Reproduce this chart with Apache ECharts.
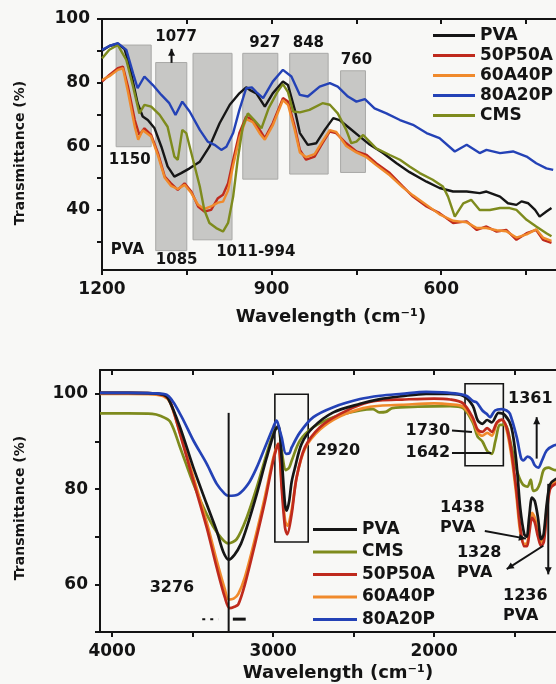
<!DOCTYPE html>
<html><head><meta charset="utf-8">
<script src="https://cdn.jsdelivr.net/npm/echarts/dist/echarts.min.js"></script>
<style>html,body{margin:0;padding:0;background:#f8f8f6}#c{width:556px;height:684px}</style>
</head><body><div id="c"></div>
<script>
// ---------- DATA (top panel: 1200-400 cm-1) ----------
const seriesNames = ['PVA','50P50A','60A40P','80A20P','CMS'];
const topPVA = [[1200,90],[1187,91.5],[1172,92.2],[1160,90.5],[1151,85],[1137,73.5],[1128,69.3],[1119,68.2],[1107,65.6],[1095,59.8],[1084,53.6],[1072,50.4],[1060,51.5],[1045,53],[1027,55.1],[1010,59.8],[992,67.2],[974,73],[957,76.6],[945,78.5],[939,77.7],[927,76.6],[912,72.4],[898,76.6],[880,80.3],[871,79.2],[859,71.4],[850,64.1],[836,60.4],[821,60.9],[806,65.1],[791,68.8],[780,68.2],[762,65.6],[744,63],[726,60.4],[703,57.8],[679,54.6],[656,51.8],[626,48.8],[603,46.8],[579,45.7],[555,45.7],[532,45.2],[520,45.7],[496,44.1],[482,42],[467,41.5],[458,42.6],[446,42],[434,39.9],[426,37.8],[414,39.4],[405,40.5]];
const top50P50A = [[1200,80.3],[1187,82.4],[1172,84.5],[1163,85],[1154,78.7],[1142,68.2],[1134,63.5],[1125,65.6],[1113,63.5],[1101,57.8],[1089,50.4],[1078,48.3],[1066,46.2],[1054,48.3],[1042,45.7],[1030,41],[1019,39.4],[1007,39.9],[995,43.6],[986,44.7],[977,48.3],[968,55.7],[957,64.1],[945,69.3],[933,68.2],[921,65.1],[912,62.5],[898,67.2],[880,75.1],[871,74],[859,66.1],[850,58.8],[839,55.7],[824,56.7],[810,60.9],[797,64.6],[786,64.1],[768,60.9],[750,58.3],[732,57.2],[715,54.6],[691,51.5],[668,47.3],[650,44.1],[626,41],[603,38.9],[579,35.8],[555,36.3],[537,33.6],[520,34.7],[502,33.1],[485,33.6],[467,30.5],[449,32.6],[432,33.6],[420,30.5],[405,29.5]];
const top60A40P = [[1200,80.8],[1187,82],[1172,84],[1163,84.5],[1154,77],[1142,66],[1136,62],[1128,65],[1113,63],[1101,57],[1089,50],[1078,47.5],[1066,46.5],[1054,47.8],[1042,45.2],[1030,41.5],[1019,40.2],[1007,41],[995,42.2],[986,42.5],[977,46],[968,54],[957,62.5],[945,68.5],[933,67.5],[921,64],[912,62],[898,66.5],[880,74.5],[871,73],[859,65],[850,58],[839,56.5],[824,57.5],[810,61.5],[797,65],[786,64.5],[768,60],[750,58],[732,56.5],[715,54],[691,50.8],[668,47],[650,44.5],[626,41.5],[603,38.5],[579,36.5],[555,36],[537,34.2],[520,34.2],[502,33.5],[485,33.2],[467,31.2],[449,32.2],[432,33.8],[420,31.2],[405,30.2]];
const top80A20P = [[1200,90.3],[1187,91.5],[1172,92.4],[1157,90.3],[1145,82.9],[1137,78.2],[1125,81.9],[1110,79.2],[1095,76.1],[1081,73.5],[1070,69.8],[1058,74],[1045,70.9],[1027,65.1],[1013,61.4],[1001,60.4],[989,58.8],[980,59.8],[968,64.1],[957,71.4],[945,78.2],[935,78.5],[927,77],[915,75.1],[898,80.3],[880,84],[865,81.9],[850,76.1],[836,75.6],[815,78.7],[797,79.8],[783,78.7],[765,75.6],[750,74],[735,74.8],[718,71.9],[697,70.3],[673,68.2],[650,66.7],[626,64.1],[603,62.5],[576,58.3],[555,60.4],[532,57.8],[520,58.8],[496,57.8],[473,58.3],[449,56.7],[432,54.6],[414,53],[402,52.5]];
const topCMS = [[1200,87.6],[1187,90.3],[1172,91.8],[1157,87.1],[1145,78.7],[1134,70.3],[1125,73],[1113,72.4],[1098,69.8],[1084,66.1],[1072,56.7],[1066,55.7],[1058,65.1],[1051,64.1],[1039,55.7],[1027,47.3],[1019,39.9],[1010,35.8],[998,34.2],[986,33.1],[977,35.8],[968,44.1],[960,55.7],[951,66.1],[942,70.3],[930,68],[918,65.6],[905,72],[890,77],[880,79.5],[871,77],[862,70.9],[850,70.6],[833,71.4],[810,73.5],[797,73],[783,70.3],[768,65.1],[759,60.9],[750,61.4],[738,63.5],[715,59.3],[691,57.2],[673,55.7],[656,53.6],[638,51.5],[615,49.4],[597,47.3],[588,44.1],[576,37.8],[561,42],[547,43.1],[532,39.9],[514,39.9],[496,40.5],[479,40.5],[467,39.9],[449,36.8],[432,34.7],[414,32.6],[405,31.6]];
const topXTicks = [1200,1050,900,750,600,450];
const topXLabels = [1200,900,600];
const topYTicks = [30,40,50,60,70,80,90,100];
const topYLabels = [40,60,80,100];
// shaded band ranges [wavenumber from, to] and [T top, bottom]
const topBoxWave = [[1175,1113],[1105,1050],[1039,970],[951,889],[868,800],[778,734]];
const topBoxTrans = [[91.8,59.8],[86.3,27.1],[89.2,30.5],[89.2,49.6],[89.2,51.2],[83.7,51.7]];
// annotation texts [text, wavenumber, T]
const topNotes = [['1077',1069,94.3],['927',912,92.5],['848',835,92.5],['760',750,87.1],['1150',1151,55.7],['PVA',1155,27.4],['1085',1068,24.2],['1011-994',928,26.7]];

// ---------- DATA (bottom panel: 4000-400 cm-1, visible part) ----------
const botPVA = [[4075,100.2],[3900,100.2],[3750,100.1],[3680,99.8],[3651,99],[3578,93],[3495,84.5],[3412,76.8],[3350,71.2],[3309,66.8],[3276,65.2],[3240,66.2],[3200,68.5],[3164,71.9],[3102,78.9],[3040,86.6],[2988,92.3],[2967,93.3],[2947,86.6],[2926,76.8],[2915,75.5],[2900,77.5],[2885,81.5],[2864,84.5],[2823,89.5],[2750,93],[2626,96.1],[2460,97.9],[2336,98.9],[2200,99.5],[2050,100],[1900,100],[1820,99.6],[1760,97.5],[1730,94.5],[1700,93.7],[1670,94.5],[1642,94],[1600,96],[1560,95.5],[1520,93],[1490,86],[1465,76],[1440,70.5],[1425,70],[1410,74],[1392,78.2],[1375,77.5],[1355,74],[1335,69.5],[1320,70.5],[1300,77],[1280,81],[1250,82],[1200,82.5]];
const botCMS = [[4075,95.9],[3900,95.9],[3750,95.8],[3702,95.4],[3640,94.2],[3578,88.8],[3495,81.1],[3412,74.7],[3340,70.5],[3278,68.6],[3226,69.5],[3164,74],[3102,80.3],[3040,87.4],[2988,92.6],[2967,92.8],[2947,88.1],[2920,84],[2900,84.5],[2884,86],[2833,90.2],[2750,93],[2626,95.1],[2460,96.5],[2380,96.8],[2340,96.1],[2300,96.2],[2260,97],[2100,97.3],[1900,97.4],[1820,97],[1760,94],[1730,91],[1700,90],[1670,88],[1642,87.4],[1620,90],[1590,93.5],[1560,93.5],[1520,89],[1487,84],[1450,81],[1420,80.5],[1400,82],[1384,79.6],[1360,80],[1340,81.5],[1320,84],[1290,84.5],[1250,84],[1200,84]];
const bot50P50A = [[4075,100.2],[3900,100.2],[3750,100.1],[3680,99.7],[3640,98.5],[3578,91.6],[3495,81.7],[3412,71.9],[3350,63.5],[3299,57.2],[3270,55],[3240,55.3],[3216,55.8],[3175,60],[3113,68.4],[3050,77.5],[2999,86],[2968,89.5],[2947,80.3],[2926,71.9],[2912,70.5],[2885,74.7],[2854,82.4],[2802,88.8],[2709,93],[2584,95.8],[2440,97.9],[2336,98.6],[2200,98.8],[2000,99],[1900,98.8],[1820,98],[1760,95],[1730,92.5],[1700,92],[1670,92.8],[1642,92],[1610,94],[1580,94.6],[1550,93],[1520,88],[1490,80],[1465,72],[1440,68],[1423,68],[1408,71],[1392,74],[1375,73],[1355,70],[1335,68],[1318,69],[1300,75],[1280,80],[1250,81],[1200,81.5]];
const bot60A40P = [[4075,100],[3900,100],[3750,99.9],[3680,99.5],[3640,98.2],[3578,91.8],[3495,82.5],[3412,73],[3350,65],[3300,59],[3276,56.8],[3245,57],[3216,58],[3175,61.5],[3113,69.5],[3050,78.5],[2999,86.5],[2970,89.5],[2947,81.5],[2926,73.5],[2912,72.3],[2885,75.5],[2854,82.5],[2802,88.5],[2709,92.5],[2584,95.3],[2440,97],[2336,97.5],[2200,97.7],[2000,98],[1900,97.8],[1820,97.3],[1760,94.5],[1730,92],[1700,91.2],[1670,91.8],[1642,91.2],[1610,93.8],[1580,94.5],[1550,92.5],[1520,87],[1490,79],[1465,71],[1440,68.5],[1423,68.6],[1408,72],[1392,75],[1375,74],[1355,71],[1335,68.8],[1318,70],[1300,76],[1280,80.5],[1250,81.5],[1200,82]];
const bot80A20P = [[4075,100.2],[3900,100.2],[3750,100.1],[3661,99.8],[3578,95.8],[3495,90.2],[3412,85.3],[3350,81.1],[3300,79],[3278,78.6],[3216,78.9],[3154,81.1],[3102,84.5],[3050,88.8],[2999,93],[2978,94.4],[2960,92.5],[2947,90.9],[2920,87.4],[2900,87.5],[2884,88.8],[2833,91.9],[2750,95.1],[2626,97.2],[2460,98.9],[2336,99.6],[2200,100],[2050,100.4],[1950,100.3],[1850,100],[1800,99.6],[1760,98.5],[1736,98.2],[1700,96.5],[1674,95.8],[1653,95.1],[1622,96.5],[1581,96.8],[1550,96.5],[1529,95.8],[1487,90.9],[1460,86.5],[1446,86],[1420,86.8],[1394,86.3],[1375,85],[1353,84.5],[1330,86],[1301,88.1],[1260,89.1],[1200,89.5]];
const botXTicks = [4000,3500,3000,2500,2000,1500];
const botXLabels = [4000,3000,2000];
const botYTicks = [50,60,70,80,90,100];
const botYLabels = [60,80,100];
const botBoxWave = [[2989,2782],[1808,1570]];
const botBoxTrans = [[99.9,68.9],[102.1,84.9]];
const botNotes = [['2920',2597,88.1,'center'],['3276',3628,59.2,'center'],['1730',1901,92.3,'right'],['1642',1901,87.6,'right'],['1361',1541,99.0,'left'],['1438',1963,76.1,'left'],['PVA',1963,71.9,'left'],['1328',1858,66.7,'left'],['PVA',1858,62.4,'left'],['1236',1572,57.5,'left'],['PVA',1572,53.3,'left']];
// leader lines / arrows: [wn1,T1,wn2,T2, arrowhead at end?]
const botLeaders = [[3276,96,3276,50,0],[1889,92.3,1765,92,0],[1889,87.6,1645,87.6,0],[1363,86.4,1363,95.1,1],[1685,71.2,1430,69.6,1],[1322,68.1,1549,63.2,1],[1291,81.1,1291,62.1,1]];
const topLeaders = [[1077,86.2,1077,90.6,1]];

// ---------- STYLE ----------
const FONT = '"DejaVu Sans", sans-serif';
const INK = '#141414';
const colors = {'PVA':'#161616','50P50A':'#bf2a1d','60A40P':'#f08a2c','80A20P':'#2442b6','CMS':'#7e8b1d'};

const chart = echarts.init(document.getElementById('c'), null, {renderer:'canvas', width:556, height:684});

function lineSeries(name, data, xi, yi, w, smooth){
  return {type:'line', name, data, xAxisIndex:xi, yAxisIndex:yi, symbol:'none', showSymbol:false,
    smooth, color:colors[name], lineStyle:{color:colors[name], width:w}, z:3, silent:true, animation:false};
}
function boxSeries(wave, trans, xi, yi, fill, stroke, lw){
  return {type:'custom', xAxisIndex:xi, yAxisIndex:yi, z:1, silent:true, animation:false, clip:false,
    data: wave.map((w,i)=>[w[0],w[1],trans[i][0],trans[i][1]]),
    encode:{x:[0,1], y:[2,3]},
    renderItem:function(params, api){
      const a = api.coord([api.value(0), api.value(2)]);
      const b = api.coord([api.value(1), api.value(3)]);
      return {type:'rect', shape:{x:Math.min(a[0],b[0]), y:Math.min(a[1],b[1]), width:Math.abs(b[0]-a[0]), height:Math.abs(b[1]-a[1])},
        style:{fill, stroke, lineWidth:lw}};
    }};
}
const axLine = {show:true, lineStyle:{color:INK, width:2}};
const lblStyle = {color:INK, fontFamily:FONT, fontWeight:'bold', fontSize:17, formatter:v=>String(v)};
function xAx(grid, min, max, ticks, labels, pos){
  const bottom = pos === 'bottom';
  return {type:'value', gridIndex:grid, min, max, inverse:true, position:pos, axisLine:axLine,
    axisTick:{show:true, inside:!bottom, length:5, lineStyle:{color:INK, width:2}, customValues:ticks},
    axisLabel: bottom ? Object.assign({show:true, margin:11, customValues:labels}, lblStyle) : {show:false},
    splitLine:{show:false}};
}
function yAx(grid, min, max, ticks, labels){
  return {type:'value', gridIndex:grid, min, max, axisLine:axLine,
    axisTick:{show:true, inside:false, length:5, lineStyle:{color:INK, width:2}, customValues:ticks},
    axisLabel:Object.assign({show:true, margin:12, customValues:labels}, lblStyle),
    splitLine:{show:false}};
}
const legText = {color:INK, fontFamily:FONT, fontWeight:'bold', fontSize:17, lineHeight:16};

chart.setOption({
  backgroundColor:'#f8f8f6',
  animation:false,
  grid:[
    {left:102, top:19, right:0, height:251, show:false},
    {left:100, top:370, right:0, height:262, show:false}
  ],
  xAxis:[
    xAx(0, 397, 1200, topXTicks, topXLabels, 'bottom'),
    xAx(0, 397, 1200, topXTicks, topXLabels, 'top'),
    xAx(1, 1243, 4075, botXTicks, botXLabels, 'bottom'),
    xAx(1, 1243, 4075, botXTicks, botXLabels, 'top')
  ],
  yAxis:[ yAx(0, 21, 100, topYTicks, topYLabels), yAx(1, 50, 105, botYTicks, botYLabels) ],
  legend:[
    {data:['PVA','50P50A','60A40P','80A20P','CMS'], orient:'vertical', left:433, top:27, padding:0, itemWidth:42, itemHeight:3, itemGap:3, icon:'rect', selectedMode:false, textStyle:legText},
    {data:['PVA','CMS','50P50A','60A40P','80A20P'], orient:'vertical', left:313, top:521, padding:0, itemWidth:44, itemHeight:3, itemGap:5.5, icon:'rect', selectedMode:false, textStyle:legText}
  ],
  series:[
    boxSeries(topBoxWave, topBoxTrans, 0, 0, '#c7c7c5', '#a9a9a7', 1),
    lineSeries('PVA', topPVA, 0, 0, 2.4, false),
    lineSeries('50P50A', top50P50A, 0, 0, 2.4, false),
    lineSeries('60A40P', top60A40P, 0, 0, 2.4, false),
    lineSeries('CMS', topCMS, 0, 0, 2.4, false),
    lineSeries('80A20P', top80A20P, 0, 0, 2.4, false),
    boxSeries(botBoxWave, botBoxTrans, 2, 1, 'none', INK, 1.6),
    lineSeries('CMS', botCMS, 2, 1, 2.7, 0.3),
    lineSeries('60A40P', bot60A40P, 2, 1, 2.7, 0.3),
    lineSeries('50P50A', bot50P50A, 2, 1, 2.7, 0.3),
    lineSeries('PVA', botPVA, 2, 1, 2.7, 0.3),
    lineSeries('80A20P', bot80A20P, 2, 1, 2.7, 0.3)
  ]
});

// ---------- annotations placed through the axes ----------
function px(g, wn, t){ return chart.convertToPixel({gridIndex:g}, [wn, t]); }
const gfx = [];
function addText(txt, x, y, size, align){
  gfx.push({type:'text', x, y, z:10, silent:true, style:{text:txt, font:'bold '+size+'px '+FONT, fill:INK,
    align:align||'center', verticalAlign:'middle', textAlign:align||'center', textVerticalAlign:'middle'}});
}
function addLeader(g, L){
  const a = px(g, L[0], L[1]), b = px(g, L[2], L[3]);
  gfx.push({type:'line', z:10, silent:true, shape:{x1:a[0], y1:a[1], x2:b[0], y2:b[1]}, style:{stroke:INK, lineWidth:2}});
  if (L[4]) {
    const dx=b[0]-a[0], dy=b[1]-a[1], len=Math.hypot(dx,dy)||1, ux=dx/len, uy=dy/len, h=7, w=3.5;
    gfx.push({type:'polygon', z:10, silent:true, shape:{points:[[b[0],b[1]],[b[0]-ux*h-uy*w, b[1]-uy*h+ux*w],[b[0]-ux*h+uy*w, b[1]-uy*h-ux*w]]}, style:{fill:INK}});
  }
}
topNotes.forEach(n => { const p = px(0, n[1], n[2]); addText(n[0], p[0], p[1], 15, 'center'); });
botNotes.forEach(n => { const p = px(1, n[1], n[2]); addText(n[0], p[0], p[1], 16, n[3]); });
topLeaders.forEach(L => addLeader(0, L));
botLeaders.forEach(L => addLeader(1, L));
// small marks near the 3276 baseline
(function(){
  const a = px(1, 3440, 52.7), b = px(1, 3340, 52.7);
  gfx.push({type:'line', z:10, silent:true, shape:{x1:a[0], y1:a[1], x2:b[0], y2:b[1]}, style:{stroke:INK, lineWidth:2, lineDash:[3,5]}});
  const c = px(1, 3250, 52.7), d = px(1, 3170, 52.7);
  gfx.push({type:'line', z:10, silent:true, shape:{x1:c[0], y1:c[1], x2:d[0], y2:d[1]}, style:{stroke:INK, lineWidth:3}});
})();
// axis titles
addText('Wavelength (cm\u207B\u00B9)', 331, 317, 18, 'center');
addText('Wavelength (cm\u207B\u00B9)', 338, 673, 18, 'center');
gfx.push({type:'text', x:20, y:153, rotation:Math.PI/2, z:10, silent:true, style:{text:'Transmittance (%)', font:'bold 14px '+FONT, fill:INK, align:'center', verticalAlign:'middle', textAlign:'center', textVerticalAlign:'middle'}});
gfx.push({type:'text', x:20, y:508, rotation:Math.PI/2, z:10, silent:true, style:{text:'Transmittance (%)', font:'bold 14px '+FONT, fill:INK, align:'center', verticalAlign:'middle', textAlign:'center', textVerticalAlign:'middle'}});
chart.setOption({graphic:gfx});
</script></body></html>
